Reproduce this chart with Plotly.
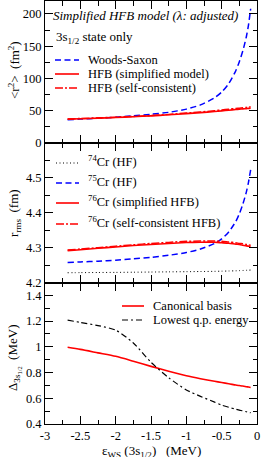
import plotly.graph_objects as go
from plotly.subplots import make_subplots

# ---------------- data ----------------
eps = [-2.68, -2.5, -2.25, -2.0, -1.75, -1.5, -1.25, -1.0, -0.8, -0.6, -0.5, -0.4, -0.3, -0.25, -0.2, -0.15, -0.12, -0.09]

r2_ws = [36, 37, 38.5, 40, 42, 44.5, 47.5, 52.5, 59, 70, 79, 92, 112, 126, 143, 165, 183, 208]
r2_hfb_simpl = [37, 37.6, 38.5, 39.5, 40.7, 42, 43.7, 45.5, 47, 48.8, 49.8, 50.8, 51.8, 52.3, 52.8, 53.3, 53.6, 54]
r2_hfb_sc = [37.3, 38, 39, 40, 41.2, 42.5, 44.3, 46.5, 48, 50, 51.2, 52.3, 53.5, 54, 54.5, 55.1, 55.5, 56]

rms_74 = [4.228, 4.2283, 4.2287, 4.229, 4.2295, 4.23, 4.2305, 4.231, 4.2315, 4.232, 4.2325, 4.233, 4.2335, 4.234, 4.2345, 4.235, 4.2353, 4.2357]
rms_75 = [4.257, 4.259, 4.261, 4.264, 4.268, 4.272, 4.278, 4.286, 4.296, 4.312, 4.325, 4.345, 4.375, 4.397, 4.425, 4.46, 4.488, 4.523]
rms_76_simpl = [4.2915, 4.294, 4.298, 4.302, 4.306, 4.309, 4.312, 4.3145, 4.3155, 4.3155, 4.314, 4.3125, 4.31, 4.309, 4.307, 4.305, 4.304, 4.303]
rms_76_sc = [4.293, 4.296, 4.300, 4.304, 4.308, 4.312, 4.315, 4.318, 4.319, 4.319, 4.318, 4.316, 4.314, 4.312, 4.311, 4.309, 4.308, 4.307]

gap_canon = [0.996, 0.98, 0.953, 0.926, 0.888, 0.848, 0.81, 0.775, 0.752, 0.732, 0.722, 0.713, 0.703, 0.699, 0.695, 0.69, 0.687, 0.684]
gap_lqp = [1.207, 1.19, 1.165, 1.13, 1.03, 0.88, 0.76, 0.665, 0.615, 0.57, 0.547, 0.53, 0.515, 0.508, 0.502, 0.495, 0.491, 0.488]

x_tickvals = [-3, -2.5, -2, -1.5, -1, -0.5, 0]
x_ticktext = ["-3", "-2.5", "-2", "-1.5", "-1", "-0.5", "0"]
y1_tickvals = [0, 50, 100, 150, 200]
y1_ticktext = ["0", "50", "100", "150", "200"]
y2_tickvals = [4.2, 4.3, 4.4, 4.5]
y2_ticktext = ["4.2", "4.3", "4.4", "4.5"]
y3_tickvals = [0.4, 0.6, 0.8, 1.0, 1.2, 1.4]
y3_ticktext = ["0.4", "0.6", "0.8", "1", "1.2", "1.4"]

legend1 = ["Woods-Saxon", "HFB (simplified model)", "HFB (self-consistent)"]
legend2 = ["<sup>74</sup>Cr (HF)", "<sup>75</sup>Cr (HF)", "<sup>76</sup>Cr (simplified HFB)", "<sup>76</sup>Cr (self-consistent HFB)"]
legend3 = ["Canonical basis", "Lowest q.p. energy"]

# ---------------- figure ----------------
W, H = 262, 457
L, R, T, B = 45, 5, 1, 33
PW, PH = W - L - R, H - T - B

def px(x):
    return (x - L) / PW

def py(y):
    return (H - B - y) / PH

FONT = "Liberation Serif, serif"
RED = "#ff0000"
BLUE = "#0000ff"
BLACK = "#000000"

fig = make_subplots(rows=3, cols=1, shared_xaxes=True, vertical_spacing=0)

sm = 0.7
fig.add_trace(go.Scatter(x=eps, y=r2_ws, mode="lines", line=dict(color=BLUE, width=1.5, dash="6px,3.5px", shape="spline", smoothing=sm)), row=1, col=1)
fig.add_trace(go.Scatter(x=eps, y=r2_hfb_sc, mode="lines", line=dict(color=RED, width=1.5, dash="8px,2px,2px,2px", shape="spline", smoothing=sm)), row=1, col=1)
fig.add_trace(go.Scatter(x=eps, y=r2_hfb_simpl, mode="lines", line=dict(color=RED, width=1.6, shape="spline", smoothing=sm)), row=1, col=1)

fig.add_trace(go.Scatter(x=eps, y=rms_74, mode="lines", line=dict(color=BLACK, width=1, dash="1px,2.5px", shape="spline", smoothing=sm)), row=2, col=1)
fig.add_trace(go.Scatter(x=eps, y=rms_75, mode="lines", line=dict(color=BLUE, width=1.5, dash="6px,3.5px", shape="spline", smoothing=sm)), row=2, col=1)
fig.add_trace(go.Scatter(x=eps, y=rms_76_sc, mode="lines", line=dict(color=RED, width=1.5, dash="8px,2px,2px,2px", shape="spline", smoothing=sm)), row=2, col=1)
fig.add_trace(go.Scatter(x=eps, y=rms_76_simpl, mode="lines", line=dict(color=RED, width=1.6, shape="spline", smoothing=sm)), row=2, col=1)

fig.add_trace(go.Scatter(x=eps, y=gap_canon, mode="lines", line=dict(color=RED, width=1.6, shape="spline", smoothing=sm)), row=3, col=1)
fig.add_trace(go.Scatter(x=eps, y=gap_lqp, mode="lines", line=dict(color=BLACK, width=1.2, dash="6px,3px,2px,3px", shape="spline", smoothing=sm)), row=3, col=1)

# domains (pixel boundaries 1, 143, 282.5, 424)
d_top = [py(143), 1]
d_mid = [py(282.5), py(143)]
d_bot = [0, py(282.5)]

axis_common = dict(showline=True, linecolor=BLACK, linewidth=1, mirror="ticks", ticks="inside",
                   ticklen=8, tickwidth=1, tickcolor=BLACK, showgrid=False, zeroline=False,
                   automargin=False,
                   tickfont=dict(family=FONT, size=12.5, color=BLACK))

for i in (1, 2, 3):
    fig.update_xaxes(row=i, col=1, range=[-3, 0], tickvals=x_tickvals, ticktext=x_ticktext,
                     minor=dict(ticks="inside", dtick=0.25, tick0=0, ticklen=4.5, tickcolor=BLACK, showgrid=False),
                     showticklabels=(i == 3), **axis_common)

fig.update_yaxes(row=1, col=1, range=[0, 220], domain=d_top, tickvals=y1_tickvals, ticktext=y1_ticktext,
                 minor=dict(ticks="inside", dtick=25, tick0=0, ticklen=4.5, tickcolor=BLACK, showgrid=False), **axis_common)
fig.update_yaxes(row=2, col=1, range=[4.2, 4.6], domain=d_mid, tickvals=y2_tickvals, ticktext=y2_ticktext,
                 minor=dict(ticks="inside", dtick=0.05, tick0=4.2, ticklen=4.5, tickcolor=BLACK, showgrid=False), **axis_common)
fig.update_yaxes(row=3, col=1, range=[0.4, 1.5], domain=d_bot, tickvals=y3_tickvals, ticktext=y3_ticktext,
                 minor=dict(ticks="inside", dtick=0.1, tick0=0.4, ticklen=4.5, tickcolor=BLACK, showgrid=False), **axis_common)

annotations = []
shapes = []

def text(x, y, s, size=12.5, xanchor="left", angle=0, yanchor="middle"):
    annotations.append(dict(x=px(x), y=py(y), xref="paper", yref="paper", text=s, showarrow=False,
                            xanchor=xanchor, yanchor=yanchor, textangle=angle, borderpad=0,
                            font=dict(family=FONT, size=size, color=BLACK)))

def sample(x0, x1, y, color, width, dash):
    shapes.append(dict(type="line", xref="paper", yref="paper", x0=px(x0), x1=px(x1), y0=py(y), y1=py(y),
                       line=dict(color=color, width=width, dash=dash)))

# top panel texts
text(52, 15, "<i>Simplified HFB model (λ: adjusted)</i>", size=13)
text(55, 37, "3s<sub>1/2</sub> state only", size=13)
rows1 = [60, 74, 88]
styles1 = [(BLUE, 1.5, "6px,3.5px"), (RED, 1.6, "solid"), (RED, 1.5, "8px,2px,2px,2px")]
for lab, yy, st in zip(legend1, rows1, styles1):
    sample(55, 79, yy, *st)
    text(87, yy, lab)

# middle panel legend
rows2 = [163, 183, 203, 224]
styles2 = [(BLACK, 1, "1px,2.5px"), (BLUE, 1.5, "6px,3.5px"), (RED, 1.6, "solid"), (RED, 1.5, "8px,2px,2px,2px")]
for lab, yy, st in zip(legend2, rows2, styles2):
    sample(56, 79, yy, *st)
    text(87, yy - 2, lab)

# bottom panel legend
rows3 = [306, 320]
styles3 = [(RED, 1.6, "solid"), (BLACK, 1.2, "6px,3px,2px,3px")]
for lab, yy, st in zip(legend3, rows3, styles3):
    sample(122, 144, yy, *st)
    text(152, yy, lab)

# axis titles
text(14, 70, "&lt;r<sup>2</sup>&gt;\u00a0\u00a0(fm<sup>2</sup>)", size=13, xanchor="center", angle=-90)
text(14, 213, "r<sub>rms</sub>\u00a0\u00a0(fm)", size=13, xanchor="center", angle=-90)
text(14, 358, "Δ<sub>3s<sub>1/2</sub></sub>\u00a0\u00a0(MeV)", size=13, xanchor="center", angle=-90)
text(151, 451, "ε<sub>WS</sub>\u00a0(3s<sub>1/2</sub>)\u00a0\u00a0\u00a0(MeV)", size=13, xanchor="center")

fig.update_layout(width=W, height=H, margin=dict(l=L, r=R, t=T, b=B, pad=0, autoexpand=False),
                  paper_bgcolor="white", plot_bgcolor="white", showlegend=False,
                  font=dict(family=FONT, size=13, color=BLACK),
                  annotations=annotations, shapes=shapes)

fig.write_html("out.html", config={"displayModeBar": False},
               post_script="document.body.style.margin='0';document.body.style.padding='0';")
